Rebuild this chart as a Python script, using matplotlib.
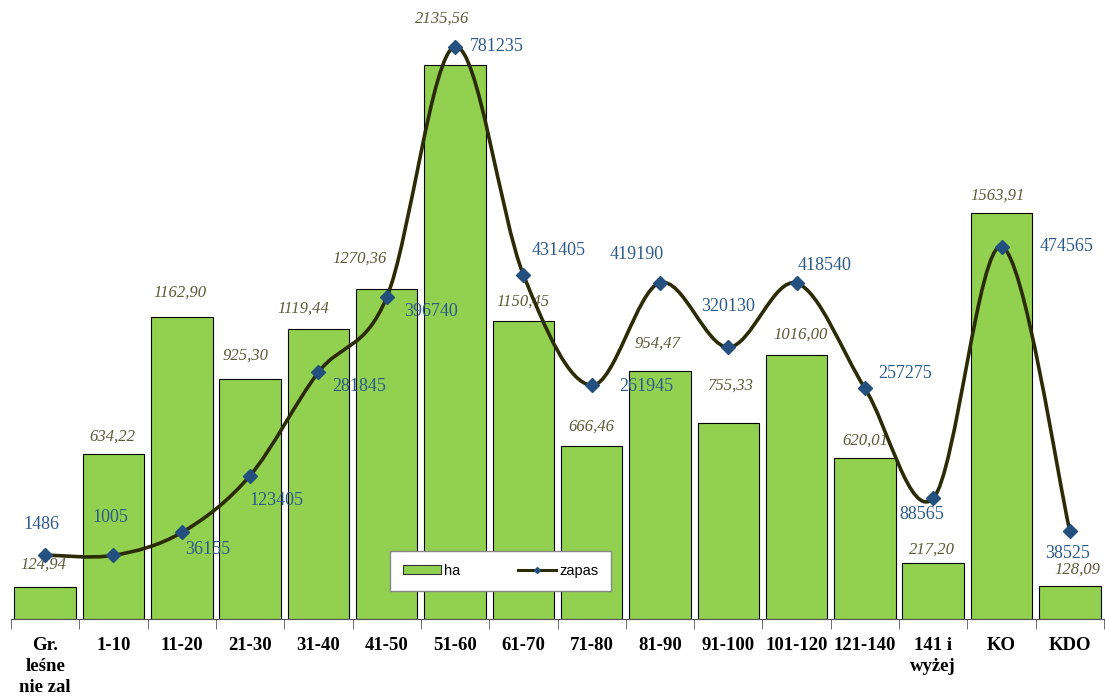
import matplotlib.pyplot as plt
from matplotlib.path import Path
from matplotlib.patches import PathPatch
from matplotlib.lines import Line2D
from matplotlib.patches import Patch
import numpy as np

categories = ['Gr.\nleśne\nnie zal', '1-10', '11-20', '21-30', '31-40', '41-50', '51-60',
              '61-70', '71-80', '81-90', '91-100', '101-120', '121-140', '141 i\nwyżej',
              'KO', 'KDO']
ha = [124.94, 634.22, 1162.90, 925.30, 1119.44, 1270.36, 2135.56, 1150.45,
      666.46, 954.47, 755.33, 1016.00, 620.01, 217.20, 1563.91, 128.09]
zapas = [1486, 1005, 36155, 123405, 281845, 396740, 781235, 431405,
         261945, 419190, 320130, 418540, 257275, 88565, 474565, 38525]

# label offsets in pixels (dx, dy) from the mark
ha_off = [(-2, 22), (-1, 18), (-2, 25), (-5, 23), (-15, 20), (-27, 31), (-13, 46), (0, 19),
          (0, 19), (-2, 28), (2, 37), (4, 21), (0, 18), (-1, 13), (-4, 18), (8, 16)]
zapas_off = [(-4, 31), (-3, 38), (26, -17), (26, -25), (41, -14), (44, -14), (42, 0), (35, 24),
             (55, -1), (-23, 28), (0, 41), (28, 18), (40, 15), (-11, -16), (65, 0), (-2, -23)]

x = np.arange(len(categories))

plt.rcParams['font.family'] = ['Liberation Serif', 'DejaVu Serif']
fig = plt.figure(figsize=(11.05, 6.96), dpi=100)
ax = fig.add_axes([11/1105, 77/696, 1093/1105, 609/696])

ax.bar(x, ha, width=0.9, color='#92D050', edgecolor='black', linewidth=0.8, zorder=2)
ax.set_xlim(-0.5, len(categories) - 0.5)
ax.set_ylim(0, 609/0.2594)
for s in ['top', 'right', 'left']:
    ax.spines[s].set_visible(False)
ax.spines['bottom'].set_color('#555555')
ax.set_yticks([])
ax.set_xticks(x)
ax.set_xticklabels(categories, fontsize=13.5, fontweight='bold', linespacing=1.3)
ax.tick_params(axis='x', which='major', length=0, pad=13)
ax.set_xticks(np.arange(len(categories) + 1) - 0.5, minor=True)
ax.tick_params(axis='x', which='minor', length=7, color='#555555', direction='out')

for xi, v, off in zip(x, ha, ha_off):
    ax.annotate(('%.2f' % v).replace('.', ','), (xi, v), xytext=off, textcoords='offset pixels',
                ha='center', va='center', fontsize=12, style='italic', color='#5a5a38')

ax2 = ax.twinx()
ax2.set_ylim(-63/0.000652, 546/0.000652)
ax2.axis('off')

# smoothed line (bezier through the points)
pts = np.column_stack([x, zapas]).astype(float)
verts = [pts[0]]
codes = [Path.MOVETO]
n = len(pts)
for i in range(n - 1):
    p0 = pts[i - 1] if i > 0 else pts[i]
    p1, p2 = pts[i], pts[i + 1]
    p3 = pts[i + 2] if i + 2 < n else pts[i + 1]
    c1 = p1 + (p2 - p0) / 6.0
    c2 = p2 - (p3 - p1) / 6.0
    verts += [c1, c2, p2]
    codes += [Path.CURVE4] * 3
ax2.add_patch(PathPatch(Path(verts, codes), facecolor='none', edgecolor='#2b2b05', lw=2.6, zorder=3))
ax2.plot(x, zapas, ls='none', marker='D', ms=7, color='#24507f', zorder=4)

for xi, v, off in zip(x, zapas, zapas_off):
    ax2.annotate(str(v), (xi, v), xytext=off, textcoords='offset pixels',
                 ha='center', va='center', fontsize=13, color='#2c5a8a')

handles = [Patch(facecolor='#92D050', edgecolor='#333333', lw=0.8, label='ha'),
           Line2D([], [], color='#2b2b05', lw=2.2, marker='D', ms=3,
                  markerfacecolor='#24507f', markeredgecolor='#24507f', label='zapas')]
leg = ax.legend(handles=handles, ncol=2, loc='center', bbox_to_anchor=(0.448, 0.079),
                frameon=True, fancybox=False, edgecolor='#888888', framealpha=1,
                prop={'family': 'Liberation Sans', 'size': 10.5}, handlelength=2.6,
                handleheight=0.6, handletextpad=0.2, columnspacing=4, borderpad=0.9)
leg.set_zorder(5)

fig.savefig('out.png', dpi=100)
